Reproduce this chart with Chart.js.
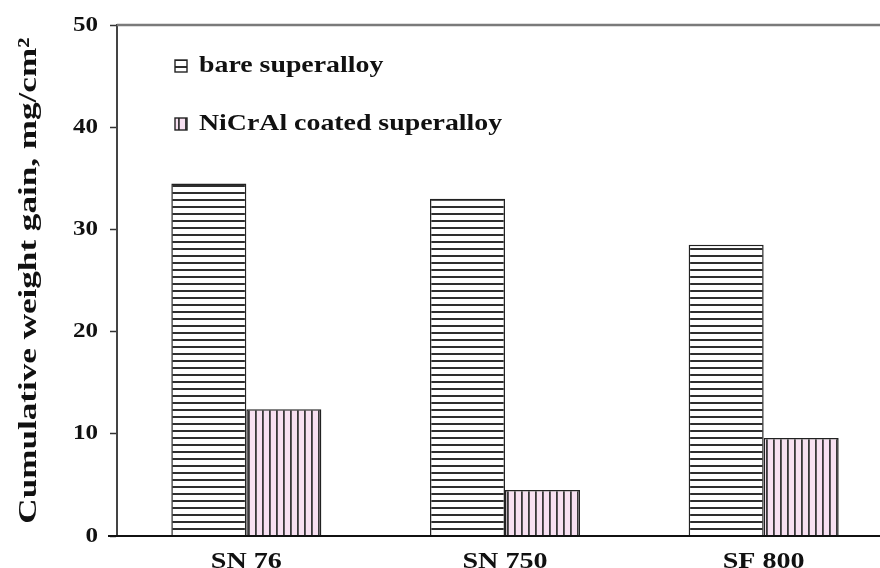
<!DOCTYPE html>
<html>
<head>
<meta charset="utf-8">
<script src="https://cdn.jsdelivr.net/npm/chart.js@4.4.1/dist/chart.umd.min.js"></script>
<style>
  html, body { margin: 0; padding: 0; background: #fff; overflow: hidden; }
  #wrap { position: relative; width: 900px; height: 600px; }
</style>
</head>
<body>
<div id="wrap"><canvas id="c" width="900" height="600"></canvas></div>
<script>
// Categories, series and axis ticks
const categories = ['SN 76', 'SN 750', 'SF 800'];
const bareSuperalloy = [34.5, 33.0, 28.5];
const coatedSuperalloy = [12.4, 4.5, 9.6];
const seriesLabels = ['bare superalloy', 'NiCrAl coated superalloy'];
const yTicks = [0, 10, 20, 30, 40, 50];
const yTitle = 'Cumulative weight gain, mg/cm\u00B2';

const SERIF = '"Liberation Serif", "Times New Roman", serif';
const INK = '#111';

// Hatch fills: horizontal lines on white, vertical lines on pale pink
function hatch(kind) {
  const c = document.createElement('canvas');
  const g = c.getContext('2d');
  if (kind === 'h') {
    c.width = 8; c.height = 7;
    g.fillStyle = '#ffffff'; g.fillRect(0, 0, 8, 7);
    g.fillStyle = '#2e2e2e'; g.fillRect(0, 3, 8, 2);
  } else {
    c.width = 7; c.height = 8;
    g.fillStyle = '#f7e0f1'; g.fillRect(0, 0, 7, 8);
    g.fillStyle = '#383838'; g.fillRect(3, 0, 1.8, 8);
  }
  return g.createPattern(c, 'repeat');
}
const fillBare = hatch('h');
const fillCoated = hatch('v');

// Bold serif text, widened along its baseline
function wideText(ctx, text, x, y, size, stretch, align, baseline, angle) {
  ctx.save();
  ctx.translate(x, y);
  if (angle) ctx.rotate(angle);
  ctx.scale(stretch, 1);
  ctx.font = 'bold ' + size + 'px ' + SERIF;
  ctx.textAlign = align;
  ctx.textBaseline = baseline;
  ctx.fillStyle = INK;
  ctx.fillText(text, 0, 0);
  ctx.restore();
}

// Axis labels, legend and framing lines
const framePlugin = {
  id: 'frame',
  afterDatasetsDraw(chart) {
    const { ctx, chartArea: a, scales } = chart;
    ctx.save();
    // top border
    ctx.strokeStyle = '#7a7a7a';
    ctx.lineWidth = 2.5;
    ctx.beginPath(); ctx.moveTo(a.left, a.top); ctx.lineTo(a.right, a.top); ctx.stroke();
    // baseline, slightly extended past the value axis
    ctx.strokeStyle = '#111';
    ctx.lineWidth = 2;
    ctx.beginPath(); ctx.moveTo(a.left - 9, a.bottom); ctx.lineTo(a.right, a.bottom); ctx.stroke();
    ctx.restore();

    // value-axis tick labels
    yTicks.forEach(v => {
      wideText(ctx, String(v), a.left - 19, scales.y.getPixelForValue(v), 22, 1.14, 'right', 'middle');
    });
    // category labels
    categories.forEach((c, i) => {
      wideText(ctx, c, scales.x.getPixelForValue(i), a.bottom + 14, 24, 1.17, 'center', 'top');
    });
    // value-axis title
    wideText(ctx, yTitle, 29, (a.top + a.bottom) / 2, 26, 1.35, 'center', 'middle', -Math.PI / 2);

    // legend
    const fills = [fillBare, fillCoated];
    const rows = [66, 124];
    chart.data.datasets.forEach((ds, i) => {
      const y = rows[i];
      ctx.save();
      ctx.fillStyle = fills[i];
      ctx.fillRect(175, y - 6, 12, 12);
      ctx.strokeStyle = '#222';
      ctx.lineWidth = 1.4;
      ctx.strokeRect(175, y - 6, 12, 12);
      ctx.restore();
      wideText(ctx, ds.label, 199, y, 24, 1.16, 'left', 'middle');
    });
  }
};

new Chart(document.getElementById('c'), {
  type: 'bar',
  data: {
    labels: categories,
    datasets: [
      { label: seriesLabels[0], data: bareSuperalloy, backgroundColor: fillBare,
        borderColor: '#222', borderWidth: 1.5, borderSkipped: 'bottom' },
      { label: seriesLabels[1], data: coatedSuperalloy, backgroundColor: fillCoated,
        borderColor: '#222', borderWidth: 1.5, borderSkipped: 'bottom' }
    ]
  },
  options: {
    responsive: false,
    animation: false,
    layout: { padding: { top: 25, right: 7, left: 0, bottom: 0 } },
    plugins: { legend: { display: false }, tooltip: { enabled: false } },
    datasets: { bar: { categoryPercentage: 0.58, barPercentage: 1.0 } },
    scales: {
      x: {
        grid: { display: false, drawTicks: false },
        border: { display: false },
        ticks: { display: false },
        afterFit(s) { s.height = 64; }
      },
      y: {
        min: 0, max: 50,
        afterBuildTicks(s) { s.ticks = yTicks.map(v => ({ value: v })); },
        grid: { drawOnChartArea: false, drawTicks: true, tickLength: 7, color: '#333', tickWidth: 1.5 },
        border: { display: true, color: '#444', width: 2 },
        ticks: { display: false },
        afterFit(s) { s.width = 117; }
      }
    }
  },
  plugins: [framePlugin]
});
</script>
</body>
</html>
